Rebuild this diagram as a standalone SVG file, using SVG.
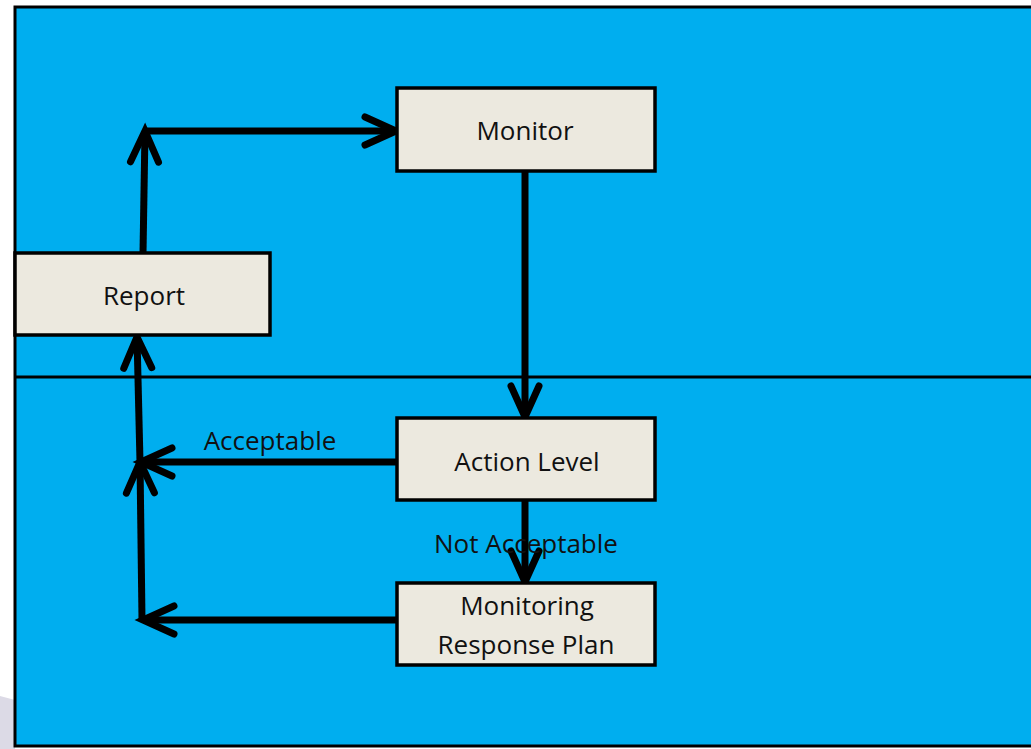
<svg xmlns="http://www.w3.org/2000/svg" width="1031" height="749" viewBox="0 0 1031 749">
<style>
.box{fill:#ECE9DF;stroke:#000;stroke-width:3.5}
.lbl{font-family:"Open Sans","Noto Sans",sans-serif;font-size:26px;fill:#111;text-anchor:middle}
.con{fill:none;stroke:#000;stroke-width:7}
</style>
<defs>
<marker id="ah" markerUnits="userSpaceOnUse" viewBox="-40 -20 44 40" refX="0" refY="0" markerWidth="44" markerHeight="40" orient="auto" overflow="visible">
<path d="M -31 -14 L 0 0 L -31 14" fill="none" stroke="#000" stroke-width="7" stroke-linecap="round" stroke-linejoin="miter"/>
</marker>
</defs>
<rect x="0" y="0" width="1031" height="749" fill="#fff"/>
<polygon points="0,696 15,700 15,749 0,749" fill="#DCDAE6"/>
<rect x="15" y="7" width="1030" height="739" fill="#00AEEF" stroke="#000" stroke-width="3"/>
<line x1="15" y1="377" x2="1031" y2="377" stroke="#000" stroke-width="3"/>
<g id="connectors">
<path class="con" d="M143 253 L145 131" marker-end="url(#ah)"/>
<path class="con" d="M145 131 L396 131" marker-end="url(#ah)"/>
<path class="con" d="M525 171 L525 417" marker-end="url(#ah)"/>
<path class="con" d="M397 462 L141 462" marker-end="url(#ah)"/>
<path class="con" d="M142 620 L140 462" marker-end="url(#ah)"/>
<path class="con" d="M140 462 L137 337" marker-end="url(#ah)"/>
<path class="con" d="M525 500 L525 582" marker-end="url(#ah)"/>
<path class="con" d="M397 620 L143 620" marker-end="url(#ah)"/>
<text class="lbl" x="270" y="450">Acceptable</text>
<text class="lbl" x="526" y="553">Not Acceptable</text>
</g>
<g id="monitor">
<rect class="box" x="397" y="88" width="258" height="83"/>
<text class="lbl" x="525" y="140">Monitor</text>
</g>
<g id="report">
<rect class="box" x="15" y="253" width="255" height="82"/>
<text class="lbl" x="144" y="305">Report</text>
</g>
<g id="action-level">
<rect class="box" x="397" y="418" width="258" height="82"/>
<text class="lbl" x="527" y="471">Action Level</text>
</g>
<g id="response-plan">
<rect class="box" x="397" y="583" width="258" height="82"/>
<text class="lbl" x="527" y="615">Monitoring</text>
<text class="lbl" x="526" y="654">Response Plan</text>
</g>
</svg>
